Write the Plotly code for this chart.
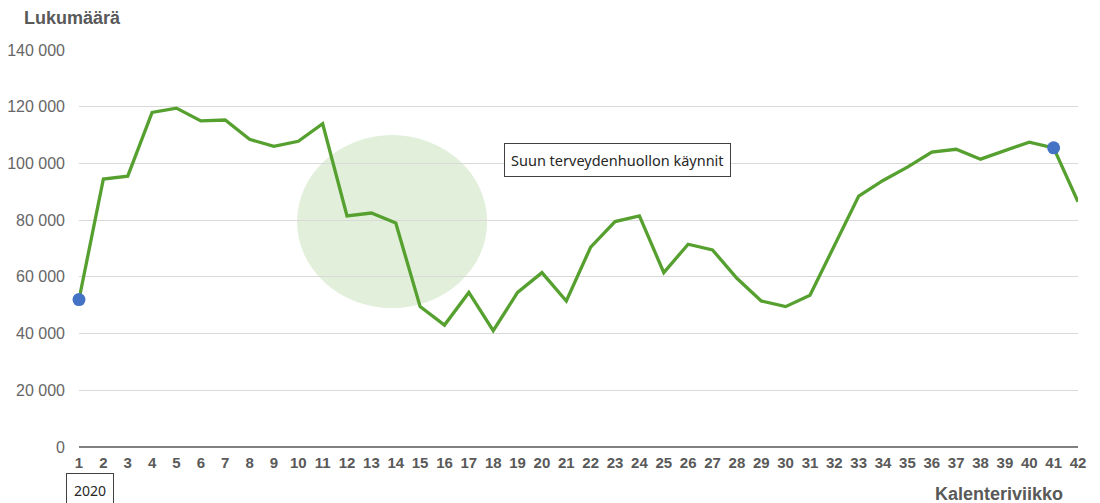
import plotly.graph_objects as go

weeks = list(range(1, 43))
visits = [52000, 94500, 95500, 118000, 119500, 115000, 115300, 108500, 106000, 107800,
          114000, 81500, 82500, 79000, 49500, 43000, 54500, 41000, 54500, 61500,
          51500, 70500, 79500, 81500, 61500, 71500, 69500, 59500, 51500, 49500,
          53500, 71000, 88500, 94000, 98700, 104000, 105000, 101500, 104500, 107500,
          105500, 86500]
highlight_weeks = [1, 41]
highlight_vals = [visits[weeks.index(w)] for w in highlight_weeks]
y_ticks = [0, 20000, 40000, 60000, 80000, 100000, 120000, 140000]
series_label = "Suun terveydenhuollon käynnit"
year_label = "2020"

# page body has an 8px margin; the figure is sized so the plot lands where the reference has it
W, H = 1092, 495
L, R, T, B = 71, 22, 42, 56
PW, PH = W - L - R, H - T - B

def px(xf):  # figure x pixel -> paper
    return (xf - L) / PW

def py(yf):  # figure y pixel -> paper
    return (H - B - yf) / PH

fig = go.Figure()
fig.add_shape(type="circle", xref="x", yref="y", x0=9.95, x1=17.75, y0=49000, y1=110000,
              fillcolor="#e2efda", line=dict(width=0), layer="below")
fig.add_trace(go.Scatter(x=weeks, y=visits, mode="lines",
                         line=dict(color="#55a02f", width=3.3), cliponaxis=False,
                         hoverinfo="x+y", showlegend=False))
fig.add_trace(go.Scatter(x=highlight_weeks, y=highlight_vals, mode="markers",
                         marker=dict(color="#4472c4", size=13), cliponaxis=False,
                         showlegend=False))

fig.add_annotation(x=23.1, y=101300, xref="x", yref="y", text=series_label,
                   showarrow=False, font=dict(family="Noto Sans", size=14.5, color="#262626"),
                   bordercolor="#404040", borderwidth=1, borderpad=6, bgcolor="white")
fig.add_annotation(x=px(82), y=py(483), xref="paper", yref="paper", text=year_label,
                   showarrow=False, font=dict(family="Noto Sans", size=14, color="#262626"),
                   bordercolor="#404040", borderwidth=1, borderpad=7, bgcolor="white",
                   xanchor="center", yanchor="middle")
fig.add_annotation(x=px(14), y=py(10), xref="paper", yref="paper", text="<b>Lukumäärä</b>",
                   showarrow=False, xanchor="left", yanchor="middle",
                   font=dict(family="Liberation Sans", size=18, color="#595959"))
fig.add_annotation(x=px(1057), y=py(486), xref="paper", yref="paper", text="<b>Kalenteriviikko</b>",
                   showarrow=False, xanchor="right", yanchor="middle",
                   font=dict(family="Liberation Sans", size=18, color="#595959"))

fig.update_layout(
    width=W, height=H,
    margin=dict(l=L, r=R, t=T, b=B, autoexpand=False),
    paper_bgcolor="white", plot_bgcolor="white",
    separators=", ",
    font=dict(family="Liberation Sans", color="#595959", size=13),
    xaxis=dict(range=[1, 42], tickmode="array", tickvals=weeks, ticktext=[f"<b>{w}</b>" for w in weeks],
               showgrid=False, zeroline=False, showline=False, ticks="", ticklabelstandoff=5,
               automargin=False,
               tickfont=dict(size=15, color="#595959"), fixedrange=True),
    yaxis=dict(range=[0, 140000], tickvals=y_ticks, tickformat=",d",
               showgrid=True, gridcolor="#d9d9d9", gridwidth=1,
               zeroline=True, zerolinecolor="#808080", zerolinewidth=2,
               showline=False, ticks="", ticklabelstandoff=13, automargin=False,
               tickfont=dict(size=16, color="#666666")),
)

fig.write_html("out.html")
